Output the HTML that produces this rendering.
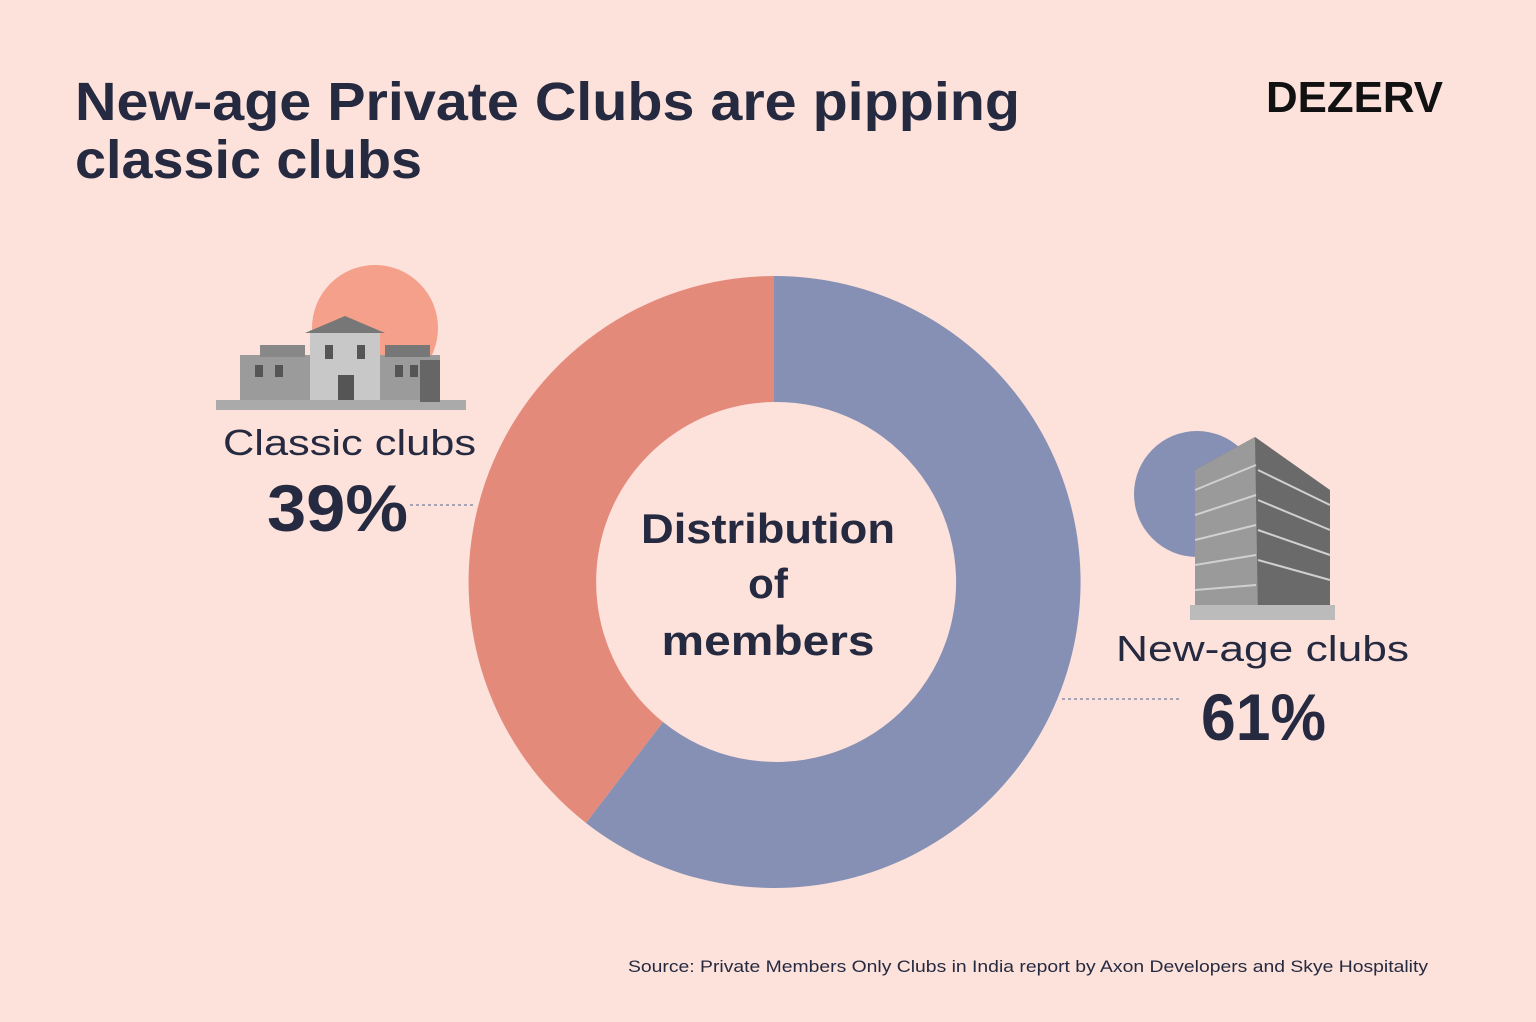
<!DOCTYPE html>
<html><head><meta charset="utf-8"><style>
html,body{margin:0;padding:0;background:#fde1db;}
svg{display:block;font-family:"Liberation Sans",sans-serif;}
</style></head><body>
<svg width="1536" height="1022" viewBox="0 0 1536 1022" xmlns="http://www.w3.org/2000/svg">
<rect width="1536" height="1022" fill="#fde1db"/>
<g fill="#252a40" font-weight="bold">
<text x="75" y="120" font-size="54" textLength="945" lengthAdjust="spacingAndGlyphs">New-age Private Clubs are pipping</text>
<text x="75" y="178" font-size="54" textLength="347" lengthAdjust="spacingAndGlyphs">classic clubs</text>
<text x="1266" y="112" font-size="44" textLength="177" lengthAdjust="spacingAndGlyphs" fill="#111">DEZERV</text>
</g>
<!-- donut -->
<path d="M774 276 A306 306 0 1 1 586 823 L663 722 A180 180 0 1 0 774 402 Z" fill="#8690b4"/>
<path d="M774 276 A306 306 0 0 0 586 823 L663 722 A180 180 0 0 1 774 402 Z" fill="#e38a7b"/>
<g fill="#252a40" font-weight="bold" text-anchor="middle" font-size="42">
<text x="768" y="543" textLength="254" lengthAdjust="spacingAndGlyphs">Distribution</text>
<text x="768" y="598">of</text>
<text x="768" y="655" textLength="213" lengthAdjust="spacingAndGlyphs">members</text>
</g>
<!-- classic building -->
<circle cx="375" cy="328" r="63" fill="#f4a08a"/>
<g fill="#8a8a8a">
<rect x="240" y="355" width="200" height="50" fill="#9b9b9b"/>
<rect x="310" y="330" width="70" height="75" fill="#c8c8c8"/>
<polygon points="305,333 345,316 385,333" fill="#777"/>
<rect x="260" y="345" width="45" height="12" fill="#888"/>
<rect x="385" y="345" width="45" height="12" fill="#777"/>
<rect x="216" y="400" width="250" height="10" fill="#aaa"/>
<rect x="420" y="360" width="20" height="42" fill="#666"/>
</g>
<g fill="#555">
<rect x="255" y="365" width="8" height="12"/><rect x="275" y="365" width="8" height="12"/><rect x="395" y="365" width="8" height="12"/><rect x="410" y="365" width="8" height="12"/>
<rect x="325" y="345" width="8" height="14"/><rect x="357" y="345" width="8" height="14"/><rect x="338" y="375" width="16" height="25"/>
</g>
<!-- new-age building -->
<circle cx="1197" cy="494" r="63" fill="#8690b4"/>
<polygon points="1195,470 1255,437 1330,490 1330,610 1255,618 1195,605" fill="#6a6a6a"/>
<polygon points="1195,470 1255,437 1258,618 1195,605" fill="#9a9a9a"/>
<g stroke="#d0d0d0" stroke-width="2">
<line x1="1195" y1="490" x2="1256" y2="465"/><line x1="1195" y1="515" x2="1256" y2="495"/><line x1="1195" y1="540" x2="1256" y2="525"/><line x1="1195" y1="565" x2="1256" y2="555"/><line x1="1195" y1="590" x2="1256" y2="585"/>
<line x1="1258" y1="470" x2="1330" y2="505"/><line x1="1258" y1="500" x2="1330" y2="530"/><line x1="1258" y1="530" x2="1330" y2="555"/><line x1="1258" y1="560" x2="1330" y2="580"/>
</g>
<rect x="1190" y="605" width="145" height="15" fill="#bbb"/>
<!-- labels -->
<g fill="#252a40">
<text x="223" y="455" font-size="36" textLength="253" lengthAdjust="spacingAndGlyphs">Classic clubs</text>
<text x="267" y="531" font-size="66" font-weight="bold" textLength="141" lengthAdjust="spacingAndGlyphs">39%</text>
<text x="1116" y="661" font-size="36" textLength="293" lengthAdjust="spacingAndGlyphs">New-age clubs</text>
<text x="1201" y="740" font-size="66" font-weight="bold" textLength="125" lengthAdjust="spacingAndGlyphs">61%</text>
<text x="628" y="972" font-size="17" textLength="800" lengthAdjust="spacingAndGlyphs">Source: Private Members Only Clubs in India report by Axon Developers and Skye Hospitality</text>
</g>
<g stroke="#8a8fa8" stroke-width="1.5" stroke-dasharray="3 3">
<line x1="410" y1="505" x2="476" y2="505"/>
<line x1="1062" y1="699" x2="1182" y2="699"/>
</g>
</svg>
</body></html>
